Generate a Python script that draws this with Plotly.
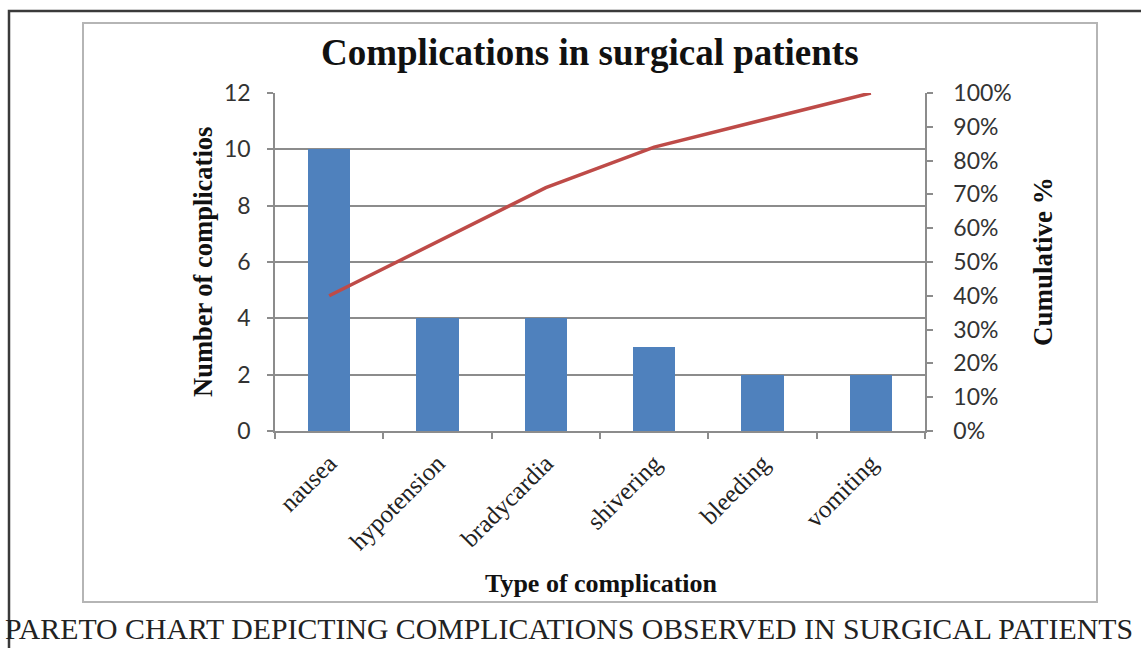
import plotly.graph_objects as go

categories = ["nausea", "hypotension", "bradycardia", "shivering", "bleeding", "vomiting"]
counts = [10, 4, 4, 3, 2, 2]
cumulative_pct = [0.40, 0.56, 0.72, 0.84, 0.92, 1.00]
left_ticks = [0, 2, 4, 6, 8, 10, 12]
right_ticks = [0, 0.1, 0.2, 0.3, 0.4, 0.5, 0.6, 0.7, 0.8, 0.9, 1.0]

W, H = 1141, 648
px = lambda x: x / W
py = lambda y: 1 - y / H

serif = "Liberation Serif, Times New Roman, serif"
sans = "Lato, Carlito, Calibri, sans-serif"
grid = "#8C8C8C"

fig = go.Figure()
fig.add_trace(go.Bar(x=categories, y=counts, marker=dict(color="#4F81BD", line=dict(width=0)),
                     width=0.39, yaxis="y", name="Number"))
fig.add_trace(go.Scatter(x=categories, y=cumulative_pct, mode="lines", yaxis="y2",
                         line=dict(color="#BE4B48", width=3.5), name="Cumulative"))

fig.update_layout(
    width=W, height=H,
    margin=dict(l=0, r=0, t=0, b=0, pad=0, autoexpand=False),
    paper_bgcolor="white", plot_bgcolor="white",
    showlegend=False,
    bargap=0,
    xaxis=dict(domain=[px(275), px(925)], anchor="y", automargin=False,
               tickangle=-45, tickfont=dict(family=serif, size=25, color="#222"),
               showline=True, linecolor=grid, linewidth=1.5,
               ticks="outside", tickson="boundaries", ticklen=6, tickcolor=grid, tickwidth=1.5,
               showgrid=False, ticklabelstandoff=6),
    yaxis=dict(domain=[py(431), py(93)], range=[0, 12], tickvals=left_ticks, automargin=False,
               tickfont=dict(family=sans, size=23, color="#333"),
               showline=True, linecolor=grid, linewidth=1.5,
               ticks="outside", ticklen=6, tickcolor=grid, tickwidth=1.5,
               showgrid=True, gridcolor=grid, gridwidth=1.5, zeroline=False,
               ticklabelstandoff=12),
    yaxis2=dict(overlaying="y", side="right", anchor="x", range=[0, 1], tickvals=right_ticks,
                automargin=False,
                tickformat=".0%", tickfont=dict(family=sans, size=23, color="#333"),
                showline=True, linecolor=grid, linewidth=1.5,
                ticks="outside", ticklen=6, tickcolor=grid, tickwidth=1.5,
                showgrid=False, zeroline=False, ticklabelstandoff=16),
)

shapes = [
    dict(type="rect", xref="paper", yref="paper", x0=px(9), x1=px(1160), y0=py(660), y1=py(11),
         line=dict(color="#3a3a3a", width=2.5), layer="below"),
    dict(type="rect", xref="paper", yref="paper", x0=px(83), x1=px(1097), y0=py(602), y1=py(23),
         line=dict(color="#B5B5B5", width=2), layer="below"),
]
fig.update_layout(shapes=shapes)

annotations = [
    dict(text="<b>Complications in surgical patients</b>", x=px(590), y=py(52), xref="paper", yref="paper",
         showarrow=False, font=dict(family=serif, size=37, color="#111"), xanchor="center", yanchor="middle"),
    dict(text="<b>Number of complicatios</b>", x=px(203), y=py(262), xref="paper", yref="paper",
         showarrow=False, textangle=-90, font=dict(family=serif, size=26.5, color="#111"),
         xanchor="center", yanchor="middle"),
    dict(text="<b>Cumulative %</b>", x=px(1043), y=py(262), xref="paper", yref="paper",
         showarrow=False, textangle=-90, font=dict(family=serif, size=27, color="#111"),
         xanchor="center", yanchor="middle"),
    dict(text="<b>Type of complication</b>", x=px(601), y=py(583), xref="paper", yref="paper",
         showarrow=False, font=dict(family=serif, size=26, color="#111"), xanchor="center", yanchor="middle"),
    dict(text="PARETO CHART DEPICTING COMPLICATIONS OBSERVED IN SURGICAL PATIENTS", x=px(3), y=py(628),
         xref="paper", yref="paper", showarrow=False, font=dict(family=serif, size=29.8, color="#222"),
         xanchor="left", yanchor="middle"),
]
fig.update_layout(annotations=annotations)

fig.write_html("out.html")
